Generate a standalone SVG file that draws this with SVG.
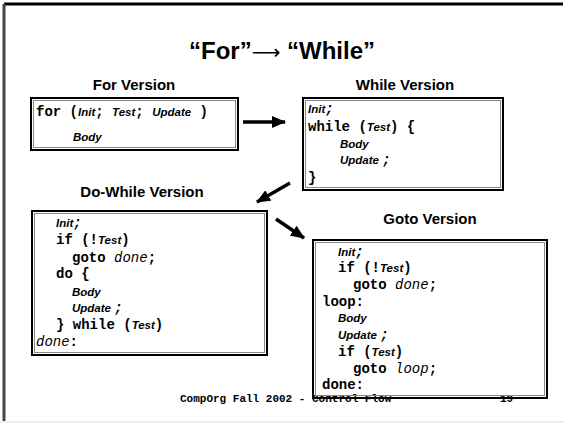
<svg xmlns="http://www.w3.org/2000/svg" width="563" height="424" viewBox="0 0 563 424">
<defs>
<marker id="ah" viewBox="0 0 14 12" refX="13" refY="6" markerWidth="14" markerHeight="12" markerUnits="userSpaceOnUse" orient="auto"><path d="M0,0 L14,6 L0,12 z" fill="#000"/></marker>
<style>
.outer{fill:#fff;stroke:#000;stroke-width:2}
.inner{fill:none;stroke:#888;stroke-width:1}
.h{font-family:"Liberation Sans",Arial,sans-serif;font-weight:bold;font-size:15px;text-anchor:middle}
.m{font-family:"Liberation Mono","Courier New",monospace;font-weight:bold;font-size:14px}
.i{font-family:"Liberation Sans",Arial,sans-serif;font-weight:bold;font-style:italic;font-size:11.5px}
.mi{font-family:"Liberation Mono","Courier New",monospace;font-style:italic;font-weight:normal}
.f{font-family:"Liberation Mono","Courier New",monospace;font-weight:bold;font-size:11px}
.conn{stroke:#000;stroke-width:3.5;fill:none}
</style>
</defs>
<rect width="563" height="424" fill="#fff"/>
<g id="frame">
<line x1="4" y1="4" x2="563" y2="4" stroke="#000" stroke-width="3"/>
<line x1="4" y1="4" x2="4" y2="421" stroke="#444" stroke-width="3"/>
<line x1="0" y1="422" x2="563" y2="422" stroke="#ddd" stroke-width="1"/>
</g>
<text x="282" y="59" font-family="'Liberation Sans',Arial,sans-serif" font-weight="bold" font-size="24" text-anchor="middle">“For”<tspan font-family="'DejaVu Sans',sans-serif" font-weight="normal" font-size="20">⟶</tspan> “While”</text>
<g id="for">
<text class="h" x="134" y="90">For Version</text>
<rect class="outer" x="31" y="98" width="207" height="52"/>
<rect class="inner" x="33.5" y="100.5" width="202" height="47"/>
<text class="m" x="36" y="116">for (<tspan class="i">Init</tspan>;  <tspan class="i">Test</tspan>;  <tspan class="i">Update</tspan> )</text>
<text class="i" x="73" y="141">Body</text>
</g>
<g id="while">
<text class="h" x="405" y="90">While Version</text>
<rect class="outer" x="303" y="98" width="200" height="92"/>
<rect class="inner" x="305.5" y="100.5" width="195" height="87"/>
<text class="i" x="308" y="113">Init<tspan class="m">;</tspan></text>
<text class="m" x="308" y="131">while (<tspan class="i">Test</tspan>) {</text>
<text class="i" x="340" y="148">Body</text>
<text class="i" x="340" y="164">Update <tspan class="m">;</tspan></text>
<text class="m" x="308" y="182">}</text>
</g>
<g id="dowhile">
<text class="h" x="142" y="197">Do-While Version</text>
<rect class="outer" x="32" y="211" width="235" height="144"/>
<rect class="inner" x="34.5" y="213.5" width="230" height="139"/>
<text class="i" x="56" y="227">Init<tspan class="m">;</tspan></text>
<text class="m" x="56" y="244">if (!<tspan class="i">Test</tspan>)</text>
<text class="m" x="72" y="262">goto <tspan class="mi">done</tspan>;</text>
<text class="m" x="56" y="278">do {</text>
<text class="i" x="72" y="296">Body</text>
<text class="i" x="72" y="312">Update <tspan class="m">;</tspan></text>
<text class="m" x="56" y="329">} while (<tspan class="i">Test</tspan>)</text>
<text class="m" x="36" y="346"><tspan class="mi">done</tspan>:</text>
</g>
<g id="footer">
<text class="f" x="180" y="402">CompOrg Fall 2002 - Control Flow</text>
<text class="f" x="500" y="402">19</text>
</g>
<g id="goto">
<text class="h" x="430" y="224">Goto Version</text>
<rect class="outer" x="313" y="240" width="234" height="158" style="fill:none"/>
<rect class="inner" x="315.5" y="242.5" width="229" height="153"/>
<text class="i" x="338" y="256">Init<tspan class="m">;</tspan></text>
<text class="m" x="338" y="272">if (!<tspan class="i">Test</tspan>)</text>
<text class="m" x="353" y="289">goto <tspan class="mi">done</tspan>;</text>
<text class="m" x="322" y="306">loop:</text>
<text class="i" x="338" y="322">Body</text>
<text class="i" x="338" y="339">Update <tspan class="m">;</tspan></text>
<text class="m" x="338" y="356">if (<tspan class="i">Test</tspan>)</text>
<text class="m" x="353" y="373">goto <tspan class="mi">loop</tspan>;</text>
<text class="m" x="322" y="389">done:</text>
</g>
<g id="connectors">
<line class="conn" x1="243" y1="122" x2="285" y2="122" marker-end="url(#ah)"/>
<line class="conn" x1="290" y1="183" x2="257" y2="202" marker-end="url(#ah)"/>
<line class="conn" x1="276" y1="219" x2="304" y2="238" marker-end="url(#ah)"/>
</g>
</svg>
